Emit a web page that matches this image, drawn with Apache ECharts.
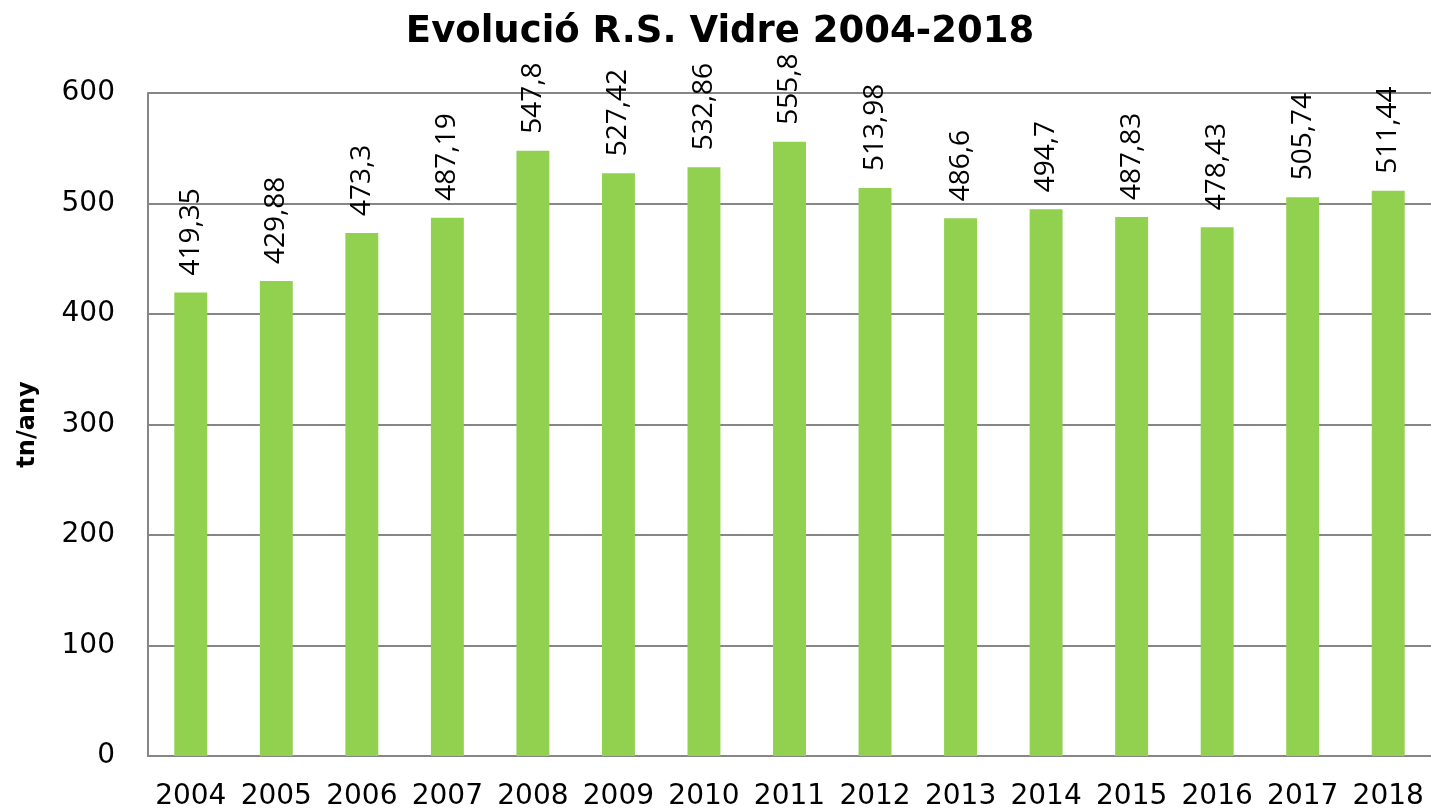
<!DOCTYPE html>
<html>
<head>
<meta charset="utf-8">
<script src="https://cdn.jsdelivr.net/npm/echarts@6/dist/echarts.min.js"></script>
<style>
  html, body { margin: 0; padding: 0; background: #ffffff; }
  #chart { width: 1431px; height: 811px; }
</style>
</head>
<body>
<div id="chart"></div>
<script>
const years = ['2004', '2005', '2006', '2007', '2008', '2009', '2010', '2011', '2012', '2013', '2014', '2015', '2016', '2017', '2018'];
const tonnes = [419.35, 429.88, 473.3, 487.19, 547.8, 527.42, 532.86, 555.8, 513.98, 486.6, 494.7, 487.83, 478.43, 505.74, 511.44];

const chart = echarts.init(document.getElementById('chart'));

chart.setOption({
  animation: false,
  title: {
    text: 'Evolució R.S. Vidre 2004-2018',
    left: 715,
    textAlign: 'center',
    top: 9,
    textStyle: {
      fontFamily: 'DejaVu Sans',
      fontSize: 37,
      fontWeight: 'bold',
      color: '#000000',
    },
  },
  grid: {
    left: 148,
    right: -4,
    top: 93,
    bottom: 52,
  },
  xAxis: {
    type: 'category',
    data: years,
    axisLine: { lineStyle: { color: '#868686', width: 2 } },
    axisTick: { show: false },
    axisLabel: {
      color: '#000000',
      fontFamily: 'DejaVu Sans',
      fontSize: 28,
      margin: 27,
      interval: 0,
    },
  },
  yAxis: {
    type: 'value',
    min: 0,
    max: 600,
    interval: 100,
    name: 'tn/any',
    nameLocation: 'middle',
    nameGap: 108,
    nameRotate: 90,
    nameTextStyle: {
      color: '#000000',
      fontFamily: 'DejaVu Sans',
      fontSize: 24,
      fontWeight: 'bold',
    },
    axisLine: { show: true, lineStyle: { color: '#868686', width: 2 } },
    axisTick: { show: false },
    axisLabel: {
      color: '#000000',
      fontFamily: 'DejaVu Sans',
      fontSize: 28,
      margin: 33,
    },
    splitLine: { lineStyle: { color: '#868686', width: 2 } },
  },
  series: [
    {
      type: 'bar',
      data: tonnes,
      barWidth: '38.5%',
      itemStyle: { color: '#92D050' },
      label: {
        show: true,
        position: 'top',
        rotate: 90,
        align: 'left',
        verticalAlign: 'middle',
        distance: 17,
        color: '#000000',
        fontFamily: 'Open Sans',
        fontSize: 28,
        formatter: (p) => String(p.value).replace('.', ','),
      },
    },
  ],
});
</script>
</body>
</html>
